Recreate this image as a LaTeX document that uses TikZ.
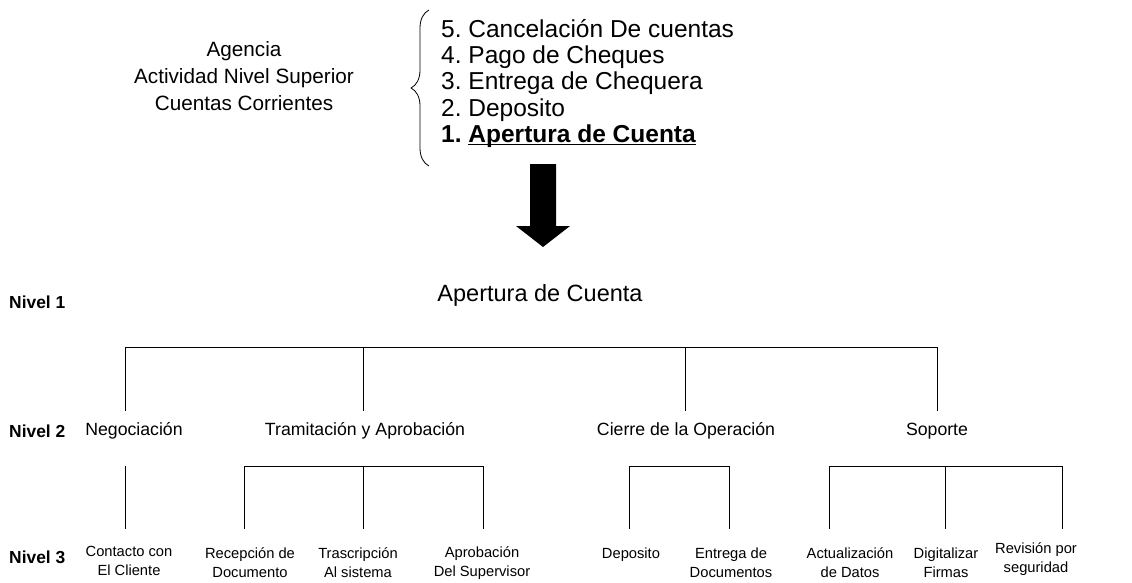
\documentclass[tikz,border=0pt]{standalone}
\usepackage{fontspec}
\setmainfont{Liberation Sans}
\usetikzlibrary{decorations.pathreplacing}
\frenchspacing
\newcommand{\subrayar}[1]{\setbox0\hbox{#1}\rlap{\rule[-3pt]{\wd0}{1.8pt}}\box0}
\begin{document}
\begin{tikzpicture}[x=1pt,y=-1pt]
        \tikzstyle{nivel}=[anchor=west,inner sep=0pt,font=\fontsize{17.4}{20}\selectfont\bfseries]
        \tikzstyle{area}=[inner sep=0pt,font=\fontsize{17.7}{21}\selectfont]
        \tikzstyle{tarea}=[inner sep=0pt,align=center,font=\fontsize{14.7}{19}\selectfont]
        \tikzstyle{rama}=[draw,line width=0.9pt]
        \useasboundingbox (0,0) rectangle (1132,583);
       \begin{scope}
         \node [align=center,inner sep=0pt,font=\fontsize{20.7}{27}\selectfont] (agencia) at (244,76) {Agencia\\Actividad Nivel Superior\\Cuentas Corrientes};
         \node [anchor=west,align=left,inner sep=0pt,font=\fontsize{24.5}{26.2}\selectfont] (lista) at (441,83.5) {5. Cancelación De cuentas\\4. Pago de Cheques\\3. Entrega de Chequera\\2. Deposito\\\textbf{1. \subrayar{Apertura de Cuenta}}};
         \draw [line width=0.8pt,decorate,decoration={brace,amplitude=18pt}] (429,166) -- (429,10);
         \fill (530,164) -- (556,164) -- (556,226) -- (570,226) -- (543,247) -- (516,226) -- (530,226) -- cycle;
        \end{scope}
       \begin{scope}
         \node [nivel] (n1) at (9,302) {Nivel 1};
         \node [nivel] (n2) at (9,431) {Nivel 2};
         \node [nivel] (n3) at (9,557) {Nivel 3};
         \node [inner sep=0pt,font=\fontsize{23.5}{28}\selectfont] (apertura) at (540,295) {Apertura de Cuenta};
         \node [area] (neg) at (134,431) {Negociación};
         \node [area] (tram) at (365,431) {Tramitación y Aprobación};
         \node [area] (cierre) at (686,431) {Cierre de la Operación};
         \node [area] (soporte) at (937,431) {Soporte};
         \node [tarea] (contacto) at (129,561) {Contacto con\\El Cliente};
         \node [tarea] (recepcion) at (250,563) {Recepción de\\Documento};
         \node [tarea] (trascripcion) at (358,563) {Trascripción\\Al sistema};
         \node [tarea] (aprobacion) at (482,563) {Aprobación\\Del Supervisor};
         \node [tarea] (deposito) at (631,555) {Deposito};
         \node [tarea] (entrega) at (731,563) {Entrega de\\Documentos};
         \node [tarea] (actualizacion) at (850,563) {Actualización\\de Datos};
         \node [tarea] (digitalizar) at (946,563) {Digitalizar\\Firmas};
         \node [tarea] (revision) at (1036,559) {Revisión por\\seguridad};
         % nivel 1 -> nivel 2
         \coordinate (r1) at (125,347);
         \coordinate (r2) at (363,347);
         \coordinate (r3) at (685,347);
         \coordinate (r4) at (937,347);
         \path[rama] (r1) -- (r4);
         \foreach \r in {r1,r2,r3,r4}
           \path[rama] (\r) -- ++(0,64);
         % nivel 2 -> nivel 3
         \coordinate (a1) at (125,466);
         \coordinate (b1) at (244,466);
         \coordinate (b2) at (363,466);
         \coordinate (b3) at (483,466);
         \coordinate (c1) at (629,466);
         \coordinate (c2) at (729,466);
         \coordinate (d1) at (829,466);
         \coordinate (d2) at (945,466);
         \coordinate (d3) at (1062,466);
         \path[rama] (b1) -- (b3);
         \path[rama] (c1) -- (c2);
         \path[rama] (d1) -- (d3);
         \foreach \r in {a1,b1,b2,b3,c1,c2,d1,d2,d3}
           \path[rama] (\r) -- ++(0,63);
        \end{scope}
      \end{tikzpicture}
\end{document}
